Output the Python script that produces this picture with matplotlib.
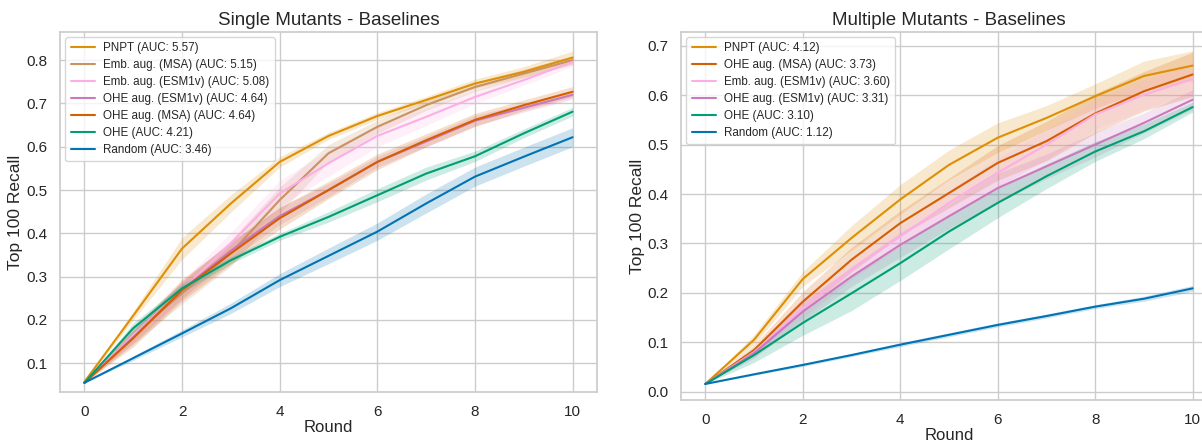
import matplotlib
matplotlib.use("Agg")
import matplotlib.pyplot as plt
import seaborn as sns
import numpy as np

rounds = list(range(11))

# Single mutants
single_labels = ["PNPT (AUC: 5.57)", "Emb. aug. (MSA) (AUC: 5.15)", "Emb. aug. (ESM1v) (AUC: 5.08)",
                 "OHE aug. (ESM1v) (AUC: 4.64)", "OHE aug. (MSA) (AUC: 4.64)", "OHE (AUC: 4.21)",
                 "Random (AUC: 3.46)"]
single_pnpt = [0.057, 0.21, 0.365, 0.469, 0.565, 0.625, 0.671, 0.708, 0.746, 0.773, 0.806]
single_emb_msa = [0.055, 0.165, 0.262, 0.354, 0.477, 0.585, 0.646, 0.696, 0.738, 0.769, 0.800]
single_emb_esm = [0.055, 0.165, 0.269, 0.377, 0.492, 0.562, 0.625, 0.669, 0.715, 0.754, 0.796]
single_ohe_esm = [0.055, 0.160, 0.270, 0.360, 0.440, 0.500, 0.565, 0.612, 0.660, 0.690, 0.720]
single_ohe_msa = [0.055, 0.158, 0.269, 0.354, 0.435, 0.500, 0.565, 0.615, 0.662, 0.696, 0.727]
single_ohe = [0.055, 0.181, 0.273, 0.338, 0.392, 0.438, 0.488, 0.538, 0.578, 0.631, 0.681]
single_random = [0.055, 0.112, 0.169, 0.227, 0.292, 0.348, 0.404, 0.469, 0.531, 0.577, 0.622]

single_err_pnpt = [0, 0.01, 0.025, 0.02, 0.012, 0.008, 0.008, 0.008, 0.01, 0.012, 0.015]
single_err_emb_msa = [0, 0.02, 0.025, 0.03, 0.03, 0.02, 0.015, 0.012, 0.01, 0.01, 0.01]
single_err_emb_esm = [0, 0.015, 0.02, 0.025, 0.03, 0.03, 0.025, 0.02, 0.015, 0.012, 0.01]
single_err_ohe_esm = [0, 0.015, 0.02, 0.02, 0.02, 0.015, 0.012, 0.012, 0.012, 0.01, 0.01]
single_err_ohe_msa = [0, 0.02, 0.025, 0.025, 0.025, 0.02, 0.018, 0.015, 0.015, 0.012, 0.012]
single_err_ohe = [0, 0.012, 0.01, 0.008, 0.008, 0.012, 0.015, 0.015, 0.012, 0.01, 0.01]
single_err_random = [0, 0.005, 0.008, 0.012, 0.015, 0.018, 0.02, 0.022, 0.022, 0.022, 0.022]

# Multiple mutants
multi_labels = ["PNPT (AUC: 4.12)", "OHE aug. (MSA) (AUC: 3.73)", "Emb. aug. (ESM1v) (AUC: 3.60)",
                "OHE aug. (ESM1v) (AUC: 3.31)", "OHE (AUC: 3.10)", "Random (AUC: 1.12)"]
multi_pnpt = [0.0155, 0.105, 0.228, 0.311, 0.389, 0.459, 0.514, 0.554, 0.598, 0.639, 0.660]
multi_ohe_msa = [0.0155, 0.084, 0.182, 0.267, 0.341, 0.402, 0.463, 0.507, 0.563, 0.608, 0.642]
multi_emb_esm = [0.0155, 0.080, 0.169, 0.247, 0.314, 0.382, 0.443, 0.500, 0.561, 0.601, 0.633]
multi_ohe_esm = [0.0155, 0.078, 0.162, 0.233, 0.297, 0.355, 0.412, 0.456, 0.500, 0.544, 0.591]
multi_ohe = [0.0155, 0.074, 0.139, 0.199, 0.260, 0.324, 0.382, 0.436, 0.486, 0.527, 0.576]
multi_random = [0.0155, 0.035, 0.054, 0.074, 0.095, 0.115, 0.135, 0.153, 0.172, 0.188, 0.209]

multi_err_pnpt = [0, 0.01, 0.015, 0.025, 0.03, 0.03, 0.03, 0.025, 0.025, 0.03, 0.03]
multi_err_ohe_msa = [0, 0.01, 0.02, 0.025, 0.025, 0.03, 0.035, 0.04, 0.04, 0.04, 0.045]
multi_err_emb_esm = [0, 0.01, 0.02, 0.02, 0.02, 0.025, 0.03, 0.03, 0.03, 0.03, 0.03]
multi_err_ohe_esm = [0, 0.01, 0.02, 0.02, 0.025, 0.025, 0.03, 0.025, 0.025, 0.02, 0.02]
multi_err_ohe = [0, 0.015, 0.025, 0.035, 0.035, 0.035, 0.03, 0.025, 0.02, 0.015, 0.01]
multi_err_random = [0, 0.002, 0.003, 0.003, 0.004, 0.004, 0.004, 0.004, 0.004, 0.005, 0.006]

pal = sns.color_palette("colorblind")
c_random, c_pnpt, c_ohe, c_ohe_msa, c_ohe_esm, c_emb_msa, c_emb_esm = pal[0], pal[1], pal[2], pal[3], pal[4], pal[5], pal[6]

sns.set_theme(style="whitegrid")
plt.rcParams["font.family"] = ["Liberation Sans", "DejaVu Sans"]

fig = plt.figure(figsize=(12.02, 4.44), dpi=100)
W, H = 1202, 444
ax1 = fig.add_axes([60 / W, 1 - 392 / H, (597 - 60) / W, (392 - 32) / H])
ax2 = fig.add_axes([681 / W, 1 - 400 / H, (1217 - 681) / W, (400 - 32) / H])

single = [
    (single_pnpt, single_err_pnpt, c_pnpt),
    (single_emb_msa, single_err_emb_msa, c_emb_msa),
    (single_emb_esm, single_err_emb_esm, c_emb_esm),
    (single_ohe_esm, single_err_ohe_esm, c_ohe_esm),
    (single_ohe_msa, single_err_ohe_msa, c_ohe_msa),
    (single_ohe, single_err_ohe, c_ohe),
    (single_random, single_err_random, c_random),
]
multi = [
    (multi_pnpt, multi_err_pnpt, c_pnpt),
    (multi_ohe_msa, multi_err_ohe_msa, c_ohe_msa),
    (multi_emb_esm, multi_err_emb_esm, c_emb_esm),
    (multi_ohe_esm, multi_err_ohe_esm, c_ohe_esm),
    (multi_ohe, multi_err_ohe, c_ohe),
    (multi_random, multi_err_random, c_random),
]

for ax, series, labels, title in [(ax1, single, single_labels, "Single Mutants - Baselines"),
                                  (ax2, multi, multi_labels, "Multiple Mutants - Baselines")]:
    for (y, e, c), lab in zip(series, labels):
        y = np.array(y)
        e = np.array(e)
        ax.fill_between(rounds, y - e, y + e, color=c, alpha=0.2, linewidth=0)
        ax.plot(rounds, y, color=c, lw=1.5, label=lab)
    ax.set_title(title, fontsize=13.5, pad=5)
    ax.set_xlabel("Round", fontsize=12, labelpad=1)
    ax.set_ylabel("Top 100 Recall", fontsize=12.5)
    ax.yaxis.set_label_coords(-0.068, 0.5)
    ax.set_xlim(-0.5, 10.5)
    ax.set_xticks([0, 2, 4, 6, 8, 10])
    ax.tick_params(labelsize=11, pad=3)
    ax.legend(loc="upper left", fontsize=8.4, frameon=True, handlelength=2.1, handletextpad=0.7,
              labelspacing=0.42, borderpad=0.45, borderaxespad=0.45)

ax1.set_ylim(0.0337, 0.865)
ax1.set_yticks([0.1, 0.2, 0.3, 0.4, 0.5, 0.6, 0.7, 0.8])
ax2.set_ylim(-0.017, 0.728)
ax2.set_yticks([0.0, 0.1, 0.2, 0.3, 0.4, 0.5, 0.6, 0.7])

fig.savefig("out.png", dpi=100)
